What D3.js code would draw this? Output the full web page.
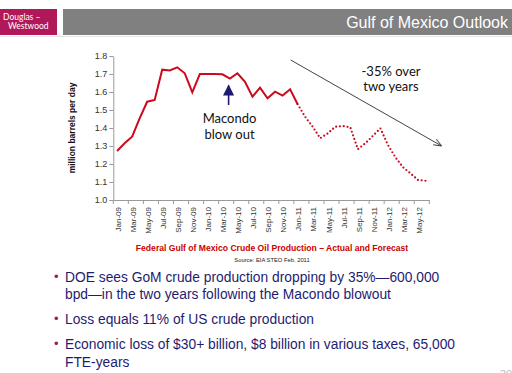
<!DOCTYPE html>
<html><head><meta charset="utf-8">
<script src="https://cdn.jsdelivr.net/npm/d3@7"></script>
<style>
html,body{margin:0;padding:0;background:#fff;}
svg{display:block;font-family:"Liberation Sans",Arial,sans-serif;}
</style></head>
<body>
<svg id="c" width="512" height="373"></svg>
<script>
const months = ["Jan-09","Feb-09","Mar-09","Apr-09","May-09","Jun-09","Jul-09","Aug-09","Sep-09","Oct-09","Nov-09","Dec-09",
"Jan-10","Feb-10","Mar-10","Apr-10","May-10","Jun-10","Jul-10","Aug-10","Sep-10","Oct-10","Nov-10","Dec-10",
"Jan-11","Feb-11","Mar-11","Apr-11","May-11","Jun-11","Jul-11","Aug-11","Sep-11","Oct-11","Nov-11","Dec-11",
"Jan-12","Feb-12","Mar-12","Apr-12","May-12","Jun-12"];
const actual = [1.272,1.315,1.352,1.454,1.546,1.556,1.724,1.720,1.737,1.704,1.598,1.700,
1.700,1.700,1.698,1.674,1.704,1.657,1.574,1.624,1.565,1.602,1.580,1.615,1.532];
const forecast = [1.532,1.462,1.407,1.343,1.370,1.407,1.411,1.404,1.282,1.315,1.356,1.398,
1.306,1.237,1.182,1.148,1.111,1.107];
const yTicks = [1.0,1.1,1.2,1.3,1.4,1.5,1.6,1.7,1.8];
const bullets = [
  ["DOE sees GoM crude production dropping by 35%\u2014600,000","bpd\u2014in the two years following the Macondo blowout"],
  ["Loss equals 11% of US crude production"],
  ["Economic loss of $30+ billion, $8 billion in various taxes, 65,000","FTE-years"]
];

const svg = d3.select("#c");

// header
svg.append("rect").attr("x",0).attr("y",9).attr("width",57).attr("height",26).attr("fill","#b0185a");
svg.append("text").attr("x",3).attr("y",20).attr("fill","#fff").attr("font-size",8.5).attr("font-family","Lato,sans-serif").text("Douglas \u2013");
svg.append("text").attr("x",8).attr("y",29).attr("fill","#fff").attr("font-size",8.5).attr("font-family","Lato,sans-serif").text("Westwood");
svg.append("rect").attr("x",63).attr("y",9).attr("width",449).attr("height",26).attr("fill","#808080");
svg.append("line").attr("x1",0).attr("x2",512).attr("y1",36.5).attr("y2",36.5).attr("stroke","#e4e4e4");
svg.append("text").attr("x",508).attr("y",28).attr("text-anchor","end").attr("fill","#fff").attr("font-size",16).text("Gulf of Mexico Outlook");

// scales
const x = d3.scaleBand().domain(months).range([113.3,429.3]);
const y = d3.scaleLinear().domain([1.0,1.8]).range([200,56]);
const cx = d => x(d) + x.bandwidth()/2;

// y axis
const ya = svg.append("g").attr("transform","translate(113.3,0)")
  .call(d3.axisLeft(y).tickValues(yTicks).tickFormat(d3.format(".1f")).tickSize(4).tickSizeOuter(0));
ya.select(".domain").attr("stroke","#9a9a9a");
ya.selectAll(".tick line").attr("stroke","#9a9a9a");
ya.selectAll("text").attr("font-size",9).attr("fill","#333").attr("x",-6);

// x axis
const xa = svg.append("g").attr("transform","translate(0,200)")
  .call(d3.axisBottom(x).tickValues(months.filter((d,i)=>i%2===0)).tickSize(4).tickSizeOuter(0));
xa.select(".domain").attr("stroke","#9a9a9a");
xa.selectAll(".tick line").attr("stroke","#9a9a9a").attr("x1",-x.bandwidth()/2).attr("x2",-x.bandwidth()/2);
xa.selectAll("text").attr("font-size",8).attr("fill","#333")
  .attr("transform","rotate(-90)").attr("x",-7).attr("y",1).attr("dy","0.35em").attr("text-anchor","end");
svg.append("line").attr("x1",429.3).attr("x2",429.3).attr("y1",200).attr("y2",204).attr("stroke","#9a9a9a");

// y label
svg.append("text").attr("transform","translate(75,128) rotate(-90)").attr("text-anchor","middle")
  .attr("font-size",8.5).attr("font-weight","bold").attr("fill","#111").text("million barrels per day");

// lines
const line = d3.line().x(d=>cx(d.m)).y(d=>y(d.v));
const aData = actual.map((v,i)=>({m:months[i],v}));
const fData = forecast.map((v,i)=>({m:months[i+24],v}));
svg.append("path").datum(aData).attr("d",line).attr("fill","none").attr("stroke","#cc0a1e").attr("stroke-width",2);
svg.append("path").datum(fData).attr("d",line).attr("fill","none").attr("stroke","#cc0a1e")
  .attr("stroke-width",2.2).attr("stroke-linecap","round").attr("stroke-dasharray","0 3.8");

// annotations
const defs = svg.append("defs");
defs.append("marker").attr("id","ah").attr("viewBox","0 0 10 10").attr("refX",9).attr("refY",5)
  .attr("markerWidth",7).attr("markerHeight",7).attr("orient","auto")
  .append("path").attr("d","M0,0L10,5L0,10z").attr("fill","#1c1c6e");
defs.append("marker").attr("id","ah2").attr("viewBox","0 0 10 10").attr("refX",10).attr("refY",5)
  .attr("markerWidth",8).attr("markerHeight",8).attr("markerUnits","userSpaceOnUse").attr("orient","auto")
  .append("path").attr("d","M0,1L10,5L0,9").attr("fill","none").attr("stroke","#444").attr("stroke-width",1.2);
svg.append("line").attr("x1",228.6).attr("x2",228.6).attr("y1",105).attr("y2",85.5)
  .attr("stroke","#1c1c6e").attr("stroke-width",1.6).attr("marker-end","url(#ah)");
svg.append("text").attr("x",229.5).attr("y",122.5).attr("text-anchor","middle").attr("font-size",13)
  .attr("font-family","Lato,sans-serif").attr("fill","#111").text("Macondo");
svg.append("text").attr("x",229.5).attr("y",139).attr("text-anchor","middle").attr("font-size",13)
  .attr("font-family","Lato,sans-serif").attr("fill","#111").text("blow out");
svg.append("line").attr("x1",290.7).attr("y1",60).attr("x2",441.7).attr("y2",146)
  .attr("stroke","#444").attr("stroke-width",1).attr("marker-end","url(#ah2)");
svg.append("text").attr("x",391).attr("y",76).attr("text-anchor","middle").attr("font-size",13)
  .attr("font-family","Lato,sans-serif").attr("fill","#111").text("-35% over");
svg.append("text").attr("x",391).attr("y",91).attr("text-anchor","middle").attr("font-size",13)
  .attr("font-family","Lato,sans-serif").attr("fill","#111").text("two years");

// caption
svg.append("text").attr("x",272).attr("y",251).attr("text-anchor","middle").attr("font-size",8.6)
  .attr("font-weight","bold").attr("fill","#cc0000").text("Federal Gulf of Mexico Crude Oil Production \u2013 Actual and Forecast");
svg.append("text").attr("x",272).attr("y",262).attr("text-anchor","middle").attr("font-size",5.8)
  .attr("fill","#222").text("Source: EIA STEO Feb. 2011");

// bullets
const baselines = [[282,299],[324],[349,367]];
bullets.forEach((b,i)=>{
  svg.append("text").attr("x",54).attr("y",baselines[i][0]-1).attr("font-size",13).attr("fill","#9c1b55").text("\u2022");
  b.forEach((t,j)=>{
    svg.append("text").attr("x",65).attr("y",baselines[i][j]).attr("font-size",13.8).attr("fill","#1f1c70").text(t);
  });
});
svg.append("text").attr("x",500).attr("y",378).attr("font-size",11).attr("fill","#bbb").text("30");
</script>
</body></html>
